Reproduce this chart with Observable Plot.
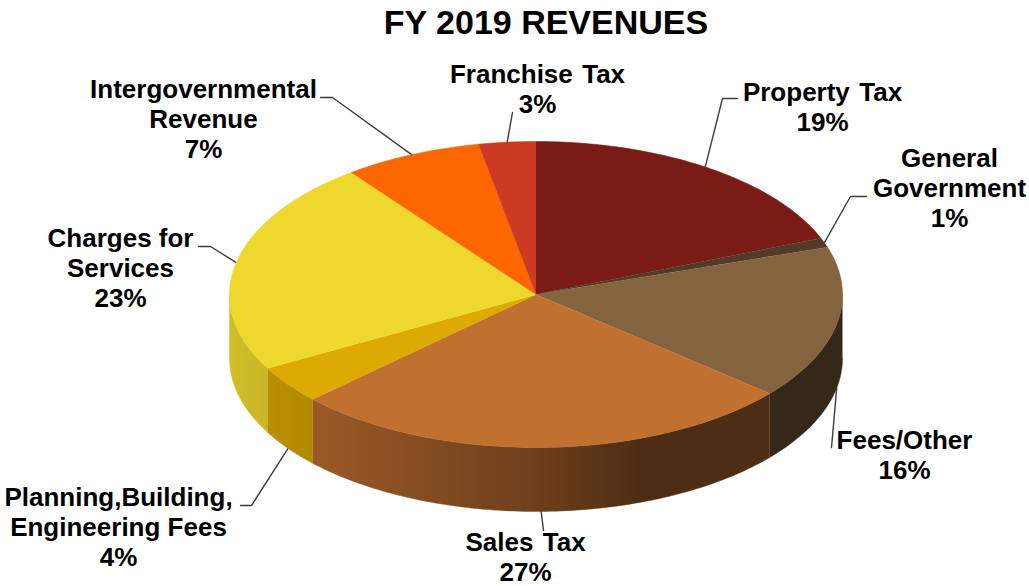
<!DOCTYPE html>
<html>
<head>
<meta charset="utf-8">
<script src="https://cdn.jsdelivr.net/npm/d3@7"></script>
<script src="https://cdn.jsdelivr.net/npm/@observablehq/plot@0.6"></script>
<style>
html,body{margin:0;padding:0;background:#fff;width:1029px;height:586px;overflow:hidden}
#title{height:46px;line-height:46px;text-align:center;font:bold 34px "Liberation Sans",Arial,sans-serif;color:#000;width:1092px;position:relative;top:3px}
svg{display:block}
</style>
</head>
<body>
<div id="title">FY 2019 REVENUES</div>
<div id="chart"></div>
<script>
// Chart data
const categories = ["Property Tax","General Government","Fees/Other","Sales Tax","Planning,Building, Engineering Fees","Charges for Services","Intergovernmental Revenue","Franchise Tax"];
const shares = [19,1,16.2,26.8,4,22.7,7.3,3];
const nameLines = [
  "Property \u200aTax","General\nGovernment","Fees/Other","Sales \u200aTax",
  "Planning,Building,\nEngineering Fees","Charges for\nServices","Intergovernmental\nRevenue","Franchise \u200aTax"];
const topColors = ["#7a1b16","#523a26","#84633f","#c07130","#dcaa00","#eed82e","#fe6600","#cc3a24"];

// Layout
const cx = 535.5, cy = 294, rx = 306.5, ry = 153, depth = 64;
const labelX = [822,949,904,525,118,120,203,537];
const labelY = [106,187,454,556,526,267,118,88];
const elbowX = [722,850,null,null,251,210,332,null];
const elbowY = [98,196,null,null,505,246,97,null];
const endX = [737,866,831,543,240,198,320,512];
const endY = [98,196,447,530,505,246,97,112];
const leaderFrac = [.49,.5,.5,.505,.5,.5,.5,.5];

const toRad = d => d * Math.PI / 180;
const px = a => cx + rx * Math.sin(toRad(a));
const py = a => cy - ry * Math.cos(toRad(a));
const total = d3.sum(shares);
const starts = d3.cumsum([0, ...shares]).map(v => v / total * 360);
const shadeStops = [[229,.88],[314,.8],[540,.56],[640,.4],[842,.4]];

// Visible wall: one polygon per slice along the front half
const wallRows = [];
shares.forEach((_, i) => {
  const a0 = Math.max(starts[i], 90), a1 = Math.min(starts[i+1], 270);
  if (a1 <= a0) return;
  const n = Math.ceil(a1 - a0);
  const col = `url(#wall${i})`;
  const angles = d3.range(n + 1).map(k => a0 + (a1 - a0) * k / n);
  angles.forEach(a => wallRows.push({id: i, col, x: px(a), y: py(a)}));
  angles.slice().reverse().forEach(a => wallRows.push({id: i, col, x: px(a), y: py(a) + depth}));
});

// Top face: one polygon per slice
const topRows = [];
shares.forEach((_, i) => {
  const col = topColors[i], id = i;
  topRows.push({id, col, x: cx, y: cy});
  const n = Math.max(2, Math.ceil(starts[i+1] - starts[i]));
  d3.range(n + 1).forEach(k => {
    const a = starts[i] + (starts[i+1] - starts[i]) * k / n;
    topRows.push({id, col, x: px(a), y: py(a)});
  });
});

// Leader lines start at the slice's rim
const leaderRows = [];
shares.forEach((_, i) => {
  const a = starts[i] + (starts[i+1] - starts[i]) * leaderFrac[i];
  const front = a > 90 && a < 270;
  leaderRows.push({id: i, x: px(a), y: py(a) + (front ? depth : 0)});
  if (elbowX[i] != null) leaderRows.push({id: i, x: elbowX[i], y: elbowY[i]});
  leaderRows.push({id: i, x: endX[i], y: endY[i]});
});

const labels = categories.map((c, i) => ({c, text: `${nameLines[i]}\n${Math.round(shares[i])}%`, x: labelX[i], y: labelY[i]}));

const plot = Plot.plot({
  width: 1029, height: 540,
  margin: 0,
  x: {domain: [0, 1029], range: [0, 1029], axis: null},
  y: {domain: [46, 586], range: [0, 540], axis: null},
  color: {type: "identity"},
  style: {background: "transparent"},
  marks: [
    Plot.line(leaderRows, {x: "x", y: "y", z: "id", stroke: "#3c3c3c", strokeWidth: 1.4}),
    Plot.line(wallRows, {x: "x", y: "y", z: "id", fill: "col", stroke: "col", strokeWidth: 0.4}),
    Plot.line(topRows, {x: "x", y: "y", z: "id", fill: "col", stroke: "col", strokeWidth: 0.5}),
    Plot.text(labels, {x: "x", y: "y", text: "text", fontSize: 26, fontWeight: "bold", fontFamily: "Liberation Sans", fill: "#000", lineHeight: 1.155, textAnchor: "middle"})
  ]
});

// Side-wall shading gradients, in the chart's x pixels
const svgNS = "http://www.w3.org/2000/svg";
const defs = document.createElementNS(svgNS, "defs");
topColors.forEach((hex, i) => {
  const g = document.createElementNS(svgNS, "linearGradient");
  g.setAttribute("id", `wall${i}`);
  g.setAttribute("gradientUnits", "userSpaceOnUse");
  g.setAttribute("x1", plot.scale("x").apply(229));
  g.setAttribute("x2", plot.scale("x").apply(842));
  g.setAttribute("y1", 0);
  g.setAttribute("y2", 0);
  const c = d3.rgb(hex);
  shadeStops.forEach(([x, f]) => {
    const s = document.createElementNS(svgNS, "stop");
    s.setAttribute("offset", (x - 229) / (842 - 229));
    s.setAttribute("stop-color", d3.rgb(c.r * f, c.g * f, c.b * f).formatHex());
    g.appendChild(s);
  });
  defs.appendChild(g);
});
plot.insertBefore(defs, plot.firstChild);
document.getElementById("chart").appendChild(plot);
</script>
</body>
</html>
